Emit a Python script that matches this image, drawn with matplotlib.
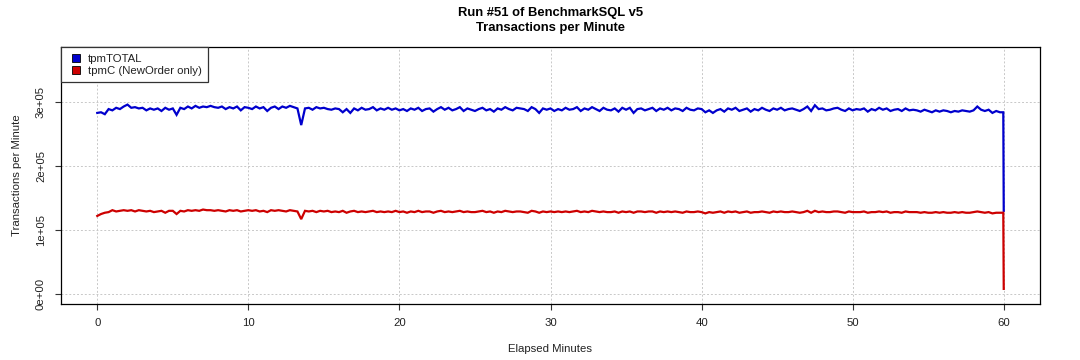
import numpy as np
import matplotlib
matplotlib.use("Agg")
import matplotlib.pyplot as plt
from matplotlib.lines import Line2D

plt.rcParams['font.family'] = ['Liberation Sans', 'DejaVu Sans']

# ---- data (thousands of transactions per minute, sampled every 15 s) ----
tpm_total_k = [
    283, 284, 281, 289,  287, 291, 289, 293,  296, 291, 292, 290,  291, 287, 290, 288,
    290, 286, 291, 288,  290, 280, 291, 289,  293, 290, 294, 291,  293, 292, 294, 292,
    291, 293, 289, 292,  290, 293, 287, 292,  291, 289, 293, 290,  292, 286, 291, 293,
    289, 293, 291, 294,  292, 290, 264, 290,  291, 288, 292, 290,  291, 289, 288, 290,
    289, 284, 289, 283,  290, 287, 291, 288,  289, 292, 287, 290,  288, 291, 288, 290,
    287, 289, 286, 290,  288, 291, 286, 289,  290, 285, 289, 292,  288, 291, 287, 289,
    292, 286, 290, 288,  286, 289, 291, 287,  289, 285, 290, 288,  292, 289, 287, 291,
    290, 289, 286, 292,  289, 283, 290, 288,  290, 286, 289, 287,  291, 288, 289, 292,
    286, 290, 288, 292,  289, 286, 291, 288,  287, 290, 285, 291,  288, 291, 283, 289,
    290, 287, 289, 291,  286, 290, 288, 291,  287, 290, 289, 286,  291, 288, 287, 290,
    289, 284, 287, 283,  287, 289, 285, 290,  288, 291, 286, 288,  290, 285, 289, 287,
    291, 288, 286, 290,  288, 291, 287, 289,  290, 288, 286, 289,  293, 286, 295, 289,
    290, 287, 288, 290,  291, 288, 286, 290,  287, 289, 288, 290,  285, 289, 287, 291,
    288, 290, 286, 288,  289, 286, 290, 287,  288, 287, 285, 288,  286, 284, 287, 285,
    287, 286, 284, 286,  285, 287, 286, 285,  287, 293, 288, 286,  288, 283, 286, 284,
]
tpm_c_k = [
    122, 125, 127, 128,  131, 129, 130, 131,  130, 131, 129, 131,  130, 129, 130, 128,
    129, 130, 127, 130,  130, 125, 130, 129,  131, 130, 131, 130,  132, 131, 131, 130,
    131, 130, 129, 131,  130, 131, 129, 130,  131, 130, 131, 129,  130, 128, 131, 130,
    131, 130, 129, 131,  130, 129, 117, 130,  129, 130, 128, 130,  129, 130, 128, 129,
    128, 130, 127, 129,  130, 128, 129, 128,  129, 130, 128, 129,  128, 129, 128, 130,
    128, 129, 127, 129,  128, 130, 128, 129,  129, 127, 129, 130,  128, 129, 128, 129,
    130, 128, 129, 128,  128, 129, 130, 128,  129, 127, 129, 128,  130, 129, 128, 129,
    129, 128, 127, 130,  129, 127, 129, 128,  129, 128, 129, 128,  129, 128, 129, 130,
    128, 129, 128, 130,  129, 128, 129, 128,  128, 129, 127, 129,  128, 129, 127, 129,
    129, 128, 129, 129,  127, 129, 128, 129,  128, 129, 128, 127,  129, 128, 128, 129,
    128, 126, 128, 127,  128, 129, 127, 129,  128, 129, 127, 128,  129, 127, 128, 128,
    129, 128, 127, 129,  128, 129, 128, 128,  129, 128, 127, 128,  130, 127, 130, 128,
    129, 128, 128, 129,  129, 128, 127, 129,  128, 128, 128, 129,  127, 128, 128, 129,
    128, 129, 127, 128,  128, 127, 129, 128,  128, 128, 127, 128,  127, 127, 128, 127,
    128, 127, 127, 128,  127, 128, 127, 127,  128, 129, 128, 127,  128, 126, 127, 127,
]
# final partial interval at the end of the run
end_minutes = [59.97, 60.0]
end_total_k = [284, 130]
end_c_k = [127, 8]

series_labels = ["tpmTOTAL", "tpmC (NewOrder only)"]
x_ticks = [0, 10, 20, 30, 40, 50, 60]
y_ticks = [0, 100000, 200000, 300000]
y_tick_labels = ["0e+00", "1e+05", "2e+05", "3e+05"]

minutes = np.concatenate([np.arange(len(tpm_total_k)) * 0.25, end_minutes])
total = np.array(tpm_total_k + end_total_k) * 1000.0
tpmc = np.array(tpm_c_k + end_c_k) * 1000.0

BLUE = "#0000CD"
RED = "#CD0000"
TXT = "#222222"
FS = 8.2

fig = plt.figure(figsize=(10.8, 3.6), dpi=100)
ax = fig.add_axes([61 / 1080, 1 - 304 / 360, (1040 - 61) / 1080, (304 - 47) / 360])

ax.plot(minutes, total, color=BLUE, lw=1.6, solid_joinstyle='miter')
ax.plot(minutes, tpmc, color=RED, lw=1.6, solid_joinstyle='miter')

ax.set_xlim(-2.4, 62.4)
ax.set_ylim(-15600, 386000)
ax.set_xticks(x_ticks)
ax.set_yticks(y_ticks)
ax.set_yticklabels(y_tick_labels, rotation=90, va='center')
ax.grid(True, color='#C8C8C8', linestyle=(0, (2, 2)), linewidth=0.7)
ax.set_axisbelow(True)

for s in ax.spines.values():
    s.set_linewidth(0.9)
    s.set_color('black')
ax.tick_params(axis='both', direction='out', length=4.3, width=0.8, labelsize=FS,
               labelcolor=TXT, color='#333333')
ax.tick_params(axis='x', pad=5.5)
ax.tick_params(axis='y', pad=6.5)

ax.set_xlabel("Elapsed Minutes", fontsize=FS, color=TXT)
ax.xaxis.label.set_va('center')
ax.xaxis.set_label_coords(0.5, (304 - 349) / 257)
ax.set_ylabel("Transactions per Minute", fontsize=FS, color=TXT)
ax.yaxis.label.set_va('center')
ax.yaxis.set_label_coords((17 - 61) / 979, 0.5)

cx = (61 + 1040) / 2 / 1080
fig.text(cx, 1 - 13 / 360, "Run #51 of BenchmarkSQL v5", ha='center', va='center',
         fontsize=9.4, fontweight='bold')
fig.text(cx, 1 - 28 / 360, "Transactions per Minute", ha='center', va='center',
         fontsize=9.4, fontweight='bold')

handles = [Line2D([], [], linestyle='none', marker='s', markersize=6,
                  markerfacecolor=BLUE, markeredgecolor='black', markeredgewidth=0.6),
           Line2D([], [], linestyle='none', marker='s', markersize=6,
                  markerfacecolor=RED, markeredgecolor='black', markeredgewidth=0.6)]
leg = ax.legend(handles, series_labels, loc='upper left', bbox_to_anchor=(0, 1),
                borderaxespad=0, fancybox=False, framealpha=1, edgecolor='#333333',
                fontsize=FS, handlelength=1.4, handletextpad=0.35,
                borderpad=0.6, labelspacing=0.15)
leg.get_frame().set_linewidth(0.9)
for t in leg.get_texts():
    t.set_color(TXT)

fig.savefig("out.png", dpi=100)
